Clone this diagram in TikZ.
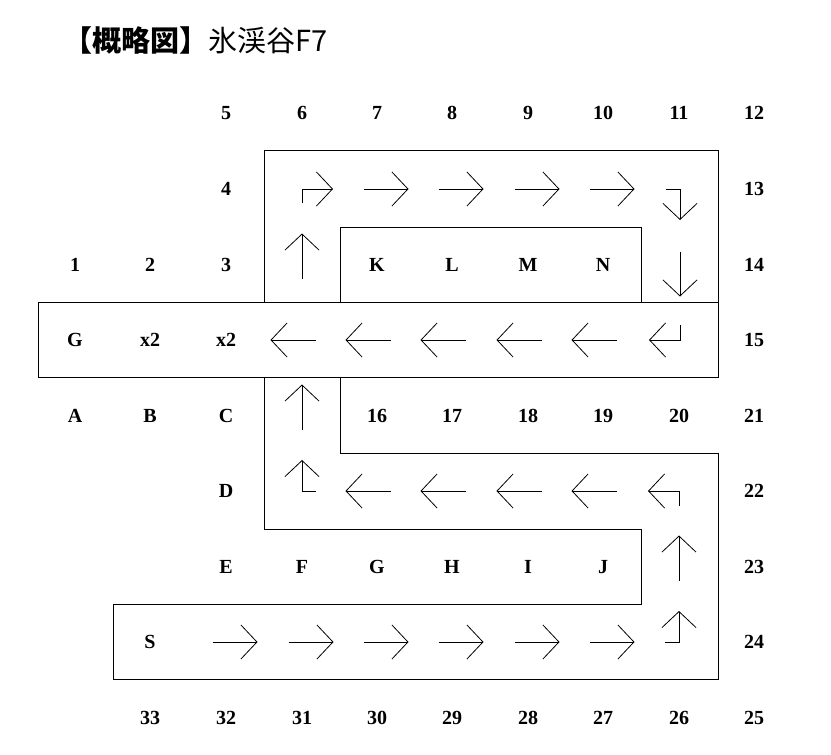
\documentclass[tikz,border=0pt]{standalone}
\usepackage{fontspec}
\setmainfont{Liberation Serif}
\newfontfamily\jpfont{Noto Sans CJK JP}
\usetikzlibrary{arrows.meta}
% arrow glyphs, placed on a cell centre
\newcommand{\goR}[2]{\draw[flow,shift={(#1,#2)}] (-13.5,0)--(31.5,0);}
\newcommand{\goL}[2]{\draw[flow,shift={(#1,#2)}] (13.5,0)--(-31.5,0);}
\newcommand{\goU}[2]{\draw[flow,shift={(#1,#2)}] (0,13.5)--(0,-31.5);}
\newcommand{\goD}[2]{\draw[flow,shift={(#1,#2)}] (0,-13.5)--(0,31.5);}

\begin{document}
\begin{tikzpicture}[
    x=1pt,y=-1pt,
    cell/.style={inner sep=0pt,font=\fontsize{20}{20}\selectfont\bfseries},
    wall/.style={draw=black,line width=1pt},
    flow/.style={line width=0.8pt,-{Straight Barb[length=16pt,width=34pt]}}
]
\useasboundingbox (0,0) rectangle (831,755);
\node[anchor=west,inner sep=0pt,font=\fontsize{29}{29}\selectfont] (title) at (63,40) {\jpfont\textbf{【概略図】}氷渓谷F7};

% walls
\draw[wall] (38,302) rectangle (718,377);
\draw[wall] (264,302)--(264,150)--(718,150)--(718,302);
\draw[wall] (340,227) rectangle (641,302);
\draw[wall] (264,377)--(264,529)--(641,529)--(641,604)--(113,604)--(113,679)--(718,679)--(718,453)--(340,453)--(340,377);

% row 1
\node[cell] (n5) at (226,113) {5};
\node[cell] (n6) at (302,113) {6};
\node[cell] (n7) at (377,113) {7};
\node[cell] (n8) at (452,113) {8};
\node[cell] (n9) at (528,113) {9};
\node[cell] (n10) at (603,113) {10};
\node[cell] (n11) at (679,113) {11};
\node[cell] (n12) at (754,113) {12};
% row 2
\node[cell] (n4) at (226,189) {4};
\node[cell] (n13) at (754,189) {13};
% row 3
\node[cell] (n1) at (75,265) {1};
\node[cell] (n2) at (150,265) {2};
\node[cell] (n3) at (226,265) {3};
\node[cell] (cK) at (377,265) {K};
\node[cell] (cL) at (452,265) {L};
\node[cell] (cM) at (528,265) {M};
\node[cell] (cN) at (603,265) {N};
\node[cell] (n14) at (754,265) {14};
% row 4
\node[cell] (cGtop) at (75,340) {G};
\node[cell] (xa) at (150,340) {x2};
\node[cell] (xb) at (226,340) {x2};
\node[cell] (n15) at (754,340) {15};
% row 5
\node[cell] (cA) at (75,416) {A};
\node[cell] (cB) at (150,416) {B};
\node[cell] (cC) at (226,416) {C};
\node[cell] (n16) at (377,416) {16};
\node[cell] (n17) at (452,416) {17};
\node[cell] (n18) at (528,416) {18};
\node[cell] (n19) at (603,416) {19};
\node[cell] (n20) at (679,416) {20};
\node[cell] (n21) at (754,416) {21};
% row 6
\node[cell] (cD) at (226,491) {D};
\node[cell] (n22) at (754,491) {22};
% row 7
\node[cell] (cE) at (226,567) {E};
\node[cell] (cF) at (302,567) {F};
\node[cell] (cG) at (377,567) {G};
\node[cell] (cH) at (452,567) {H};
\node[cell] (cI) at (528,567) {I};
\node[cell] (cJ) at (603,567) {J};
\node[cell] (n23) at (754,567) {23};
% row 8
\node[cell] (start) at (150,642) {S};
\node[cell] (n24) at (754,642) {24};
% row 9
\node[cell] (n33) at (150,718) {33};
\node[cell] (n32) at (226,718) {32};
\node[cell] (n31) at (302,718) {31};
\node[cell] (n30) at (377,718) {30};
\node[cell] (n29) at (452,718) {29};
\node[cell] (n28) at (528,718) {28};
\node[cell] (n27) at (603,718) {27};
\node[cell] (n26) at (679,718) {26};
\node[cell] (n25) at (754,718) {25};

% route
\goR{226}{642} \goR{302}{642} \goR{377}{642} \goR{452}{642} \goR{528}{642} \goR{603}{642}
\draw[flow] (665,642)--(679,642)--(679,611);
\goU{679}{567}
\draw[flow] (679,506)--(679,491)--(648,491);
\goL{603}{491} \goL{528}{491} \goL{452}{491} \goL{377}{491}
\draw[flow] (316,491)--(302,491)--(302,460);
\goU{302}{416}
\goU{302}{265}
\draw[flow] (302,203)--(302,189)--(333,189);
\goR{377}{189} \goR{452}{189} \goR{528}{189} \goR{603}{189}
\draw[flow] (666,189)--(680,189)--(680,220);
\goD{680}{265}
\draw[flow] (680,325)--(680,340)--(649,340);
\goL{603}{340} \goL{528}{340} \goL{452}{340} \goL{377}{340} \goL{302}{340}
\end{tikzpicture}
\end{document}
